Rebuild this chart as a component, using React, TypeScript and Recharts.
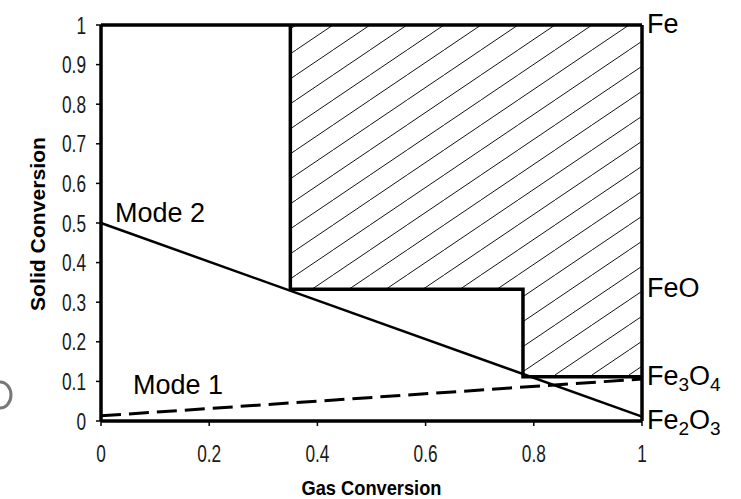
import { LineChart, Line, XAxis, YAxis, ReferenceLine, ReferenceArea, ReferenceDot, Label } from "recharts";

const xTicks = [0, 0.2, 0.4, 0.6, 0.8, 1];
const yTicks = [0, 0.1, 0.2, 0.3, 0.4, 0.5, 0.6, 0.7, 0.8, 0.9, 1];

// operating lines
const mode2 = [
  { x: 0, y: 0.5 },
  { x: 1, y: 0.011 },
];
const mode1 = [
  { x: 0, y: 0.013 },
  { x: 1, y: 0.106 },
];

// thermodynamic limit (stepped boundary)
const boundary = [
  { x: 0.35, y: 1 },
  { x: 0.35, y: 0.333 },
  { x: 0.78, y: 0.333 },
  { x: 0.78, y: 0.112 },
  { x: 1, y: 0.112 },
];

// infeasible (hatched) zones
const hatchZones = [
  { x1: 0.35, x2: 0.78, y1: 0.333, y2: 1 },
  { x1: 0.78, x2: 1, y1: 0.112, y2: 1 },
];

// phase labels on the right: alternating normal / subscript parts
const phaseNames = [["Fe"], ["FeO"], ["Fe", "3", "O", "4"], ["Fe", "2", "O", "3"]];
const phaseLevels = [1, 0.333, 0.111, 0];

const modeNames = ["Mode 2", "Mode 1"];
const modeX = [0.026, 0.059];
const modeY = [0.502, 0.068];

const font = "'Liberation Sans', Arial, sans-serif";
const TICK_FS = 24;

// tick text is tall and narrow in the original figure
const tickWidth = (s: string) =>
  s.split("").reduce((w, c) => w + (c === "." ? 0.278 : 0.556), 0) * TICK_FS * 0.72;

const PhaseLabel = (parts: string[]) => (p: any) => (
  <text x={p.cx + 5} y={p.cy + 7.5} fontFamily={font} fontSize={27} fill="#000">
    {parts.map((s, i) =>
      i % 2 === 1 ? (
        <tspan key={i} fontSize={19} dy={6}>
          {s}
        </tspan>
      ) : (
        <tspan key={i} dy={i > 0 ? -6 : 0}>
          {s}
        </tspan>
      )
    )}
  </text>
);

const ModeLabel = (name: string) => (p: any) => (
  <text x={p.cx} y={p.cy} fontFamily={font} fontSize={27} fill="#000">
    {name}
  </text>
);

const TickText = (s: string, dx: number, dy: number, anchor: string) => (p: any) => (
  <text
    x={p.cx + dx}
    y={p.cy + dy}
    textAnchor={anchor}
    fontFamily={font}
    fontSize={TICK_FS}
    textLength={tickWidth(s)}
    lengthAdjust="spacingAndGlyphs"
    fill="#1a1a1a"
  >
    {s}
  </text>
);

const NoTick = () => <g />;

const YTitle = (props: any) => {
  const vb = props.viewBox;
  const cx = 45;
  const cy = vb.y + vb.height / 2 + 1;
  return (
    <text
      x={cx}
      y={cy}
      transform={`rotate(-90, ${cx}, ${cy})`}
      textAnchor="middle"
      fontFamily={font}
      fontWeight="bold"
      fontSize={20}
      textLength={174}
      lengthAdjust="spacingAndGlyphs"
      fill="#000"
    >
      Solid Conversion
    </text>
  );
};

const XTitle = (props: any) => {
  const vb = props.viewBox;
  return (
    <text
      x={vb.x + vb.width / 2}
      y={495}
      textAnchor="middle"
      fontFamily={font}
      fontWeight="bold"
      fontSize={21}
      textLength={140}
      lengthAdjust="spacingAndGlyphs"
      fill="#000"
    >
      Gas Conversion
    </text>
  );
};

export default function App() {
  return (
    <div style={{ position: "absolute", left: 0, top: 0, background: "#fff" }}>
      <LineChart width={741} height={499} margin={{ top: 25, right: 99, bottom: 0, left: 0 }}>
        <defs>
          <pattern id="hatch" patternUnits="userSpaceOnUse" x={0} y={0} width={37} height={25}>
            <line x1={-3.7} y1={27.5} x2={40.7} y2={-2.5} stroke="#111" strokeWidth={1} />
          </pattern>
        </defs>
        <XAxis
          type="number"
          dataKey="x"
          domain={[0, 1]}
          ticks={xTicks}
          height={78}
          tickSize={5}
          tick={NoTick}
          axisLine={{ stroke: "#000", strokeWidth: 3.5 }}
          tickLine={{ stroke: "#000", strokeWidth: 1.5 }}
        >
          <Label content={XTitle} />
        </XAxis>
        <YAxis
          type="number"
          dataKey="y"
          domain={[0, 1]}
          ticks={yTicks}
          width={101}
          tickSize={5}
          tick={NoTick}
          axisLine={{ stroke: "#000", strokeWidth: 3.5 }}
          tickLine={{ stroke: "#000", strokeWidth: 1.5 }}
        >
          <Label content={YTitle} />
        </YAxis>
        {hatchZones.map((z, i) => (
          <ReferenceArea key={i} x1={z.x1} x2={z.x2} y1={z.y1} y2={z.y2} fill="url(#hatch)" fillOpacity={1} stroke="none" />
        ))}
        <ReferenceLine y={1} stroke="#000" strokeWidth={3.5} />
        <ReferenceLine x={1} stroke="#000" strokeWidth={3.5} />
        <Line data={boundary} dataKey="y" type="linear" stroke="#000" strokeWidth={3.5} dot={false} isAnimationActive={false} />
        <Line data={mode2} dataKey="y" type="linear" stroke="#000" strokeWidth={2.5} dot={false} isAnimationActive={false} />
        <Line
          data={mode1}
          dataKey="y"
          type="linear"
          stroke="#000"
          strokeWidth={3}
          strokeDasharray="20 8"
          dot={false}
          isAnimationActive={false}
        />
        {xTicks.map((v) => (
          <ReferenceDot key={"xt" + v} x={v} y={0} r={0} ifOverflow="visible" shape={TickText(String(v), 0, 41, "middle")} />
        ))}
        {yTicks.map((v) => (
          <ReferenceDot key={"yt" + v} x={0} y={v} r={0} ifOverflow="visible" shape={TickText(String(v), -15, 8.5, "end")} />
        ))}
        {phaseNames.map((parts, i) => (
          <ReferenceDot key={"p" + i} x={1} y={phaseLevels[i]} r={0} ifOverflow="visible" shape={PhaseLabel(parts)} />
        ))}
        {modeNames.map((name, i) => (
          <ReferenceDot key={"m" + i} x={modeX[i]} y={modeY[i]} r={0} ifOverflow="visible" shape={ModeLabel(name)} />
        ))}
        <ellipse cx={0} cy={395} rx={11} ry={13} fill="none" stroke="#777" strokeWidth={3} />
      </LineChart>
    </div>
  );
}
